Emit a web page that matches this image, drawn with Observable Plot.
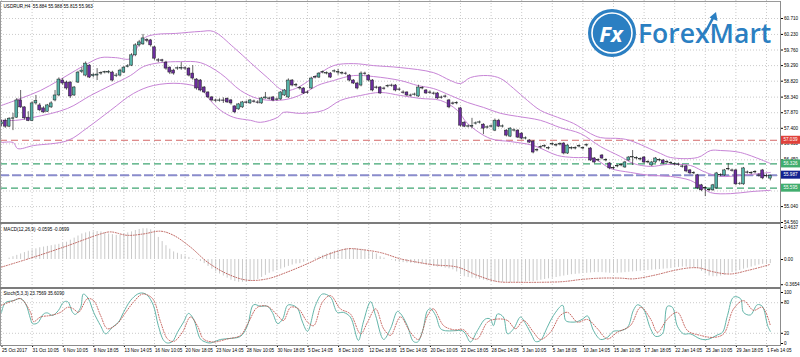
<!DOCTYPE html>
<html>
<head>
<meta charset="utf-8">
<script src="https://cdn.jsdelivr.net/npm/d3@7"></script>
<script src="https://cdn.jsdelivr.net/npm/@observablehq/plot@0.6"></script>
<style>
  html, body { margin: 0; padding: 0; background: #fff; }
  #wrap { position: relative; width: 800px; height: 357px; overflow: hidden; background: #fff; }
  .abs { position: absolute; }
  .ln { position: absolute; background: #8c8c8c; }
</style>
</head>
<body>
<div id="wrap">
  <div id="p1" class="abs" style="left:0;top:0"></div>
  <div id="p2" class="abs" style="left:0;top:224px"></div>
  <div id="p3" class="abs" style="left:0;top:289px"></div>
</div>
<script>
// ---------- DATA ----------
const symbolTitle = "USDRUR,H4  55.884 55.988 55.815 55.963";
const macdTitle = "MACD(12,26,9) -0.0595 -0.0699";
const stochTitle = "Stoch(5,3,3) 23.7569 35.6090";

const timeLabels = ["25 Oct 2017","31 Oct 10:05","6 Nov 10:05","8 Nov 18:05","13 Nov 14:05","16 Nov 10:05","20 Nov 18:05","23 Nov 14:05","28 Nov 10:05","30 Nov 18:05","5 Dec 14:05","8 Dec 10:05","12 Dec 18:05","15 Dec 14:05","20 Dec 10:05","22 Dec 18:05","28 Dec 14:05","3 Jan 10:05","5 Jan 18:05","10 Jan 14:05","15 Jan 10:05","17 Jan 18:05","22 Jan 14:05","25 Jan 10:05","29 Jan 18:05","1 Feb 14:05"];
const timeBars = [0,8,16,24,32,40,48,56,64,72,80,88,96,104,112,120,128,136,144,152,160,168,176,184,192,200];

const priceTicks = [60.710,60.230,59.760,59.290,58.820,58.340,57.870,57.400,56.930,56.450,55.980,55.510,55.040,54.560];
// labels that are not hidden behind the price tags
const priceLabelTicks = [60.710,60.230,59.760,59.290,58.820,58.340,57.870,57.400,56.930,56.450,55.040,54.560];
const macdTicks = [0.4637, 0, -0.3654];
const macdTickText = ["0.4637", "0.00", "-0.3654"];
const stochTicks = [100, 80, 20, 0];
const stochLevels = [80, 20];

const levelRed = 57.039, levelGreenHi = 56.326, levelBlue = 55.987, levelGreenLo = 55.595;

const open = [
57.52,57.63,57.45,57.69,57.72,58.24,58.03,57.72,57.62,58.15,
58.09,58.00,57.90,58.03,58.24,58.39,58.84,58.78,58.78,58.39,
58.78,59.10,58.99,59.29,58.97,58.99,59.05,59.08,59.08,59.08,
58.97,58.99,59.08,59.25,59.29,59.60,59.90,59.93,60.06,60.05,
59.84,59.45,59.45,59.38,59.23,59.14,59.20,59.20,59.21,59.20,
59.05,58.87,58.84,58.63,58.48,58.33,58.24,58.23,58.24,58.29,
58.24,58.06,57.97,58.03,58.18,58.15,58.21,58.18,58.15,58.30,
58.30,58.33,58.26,58.27,58.39,58.33,58.84,58.69,58.60,58.60,
58.48,58.60,58.93,58.93,59.08,59.05,59.05,59.11,59.08,59.05,
59.05,58.99,58.84,58.75,58.69,59.05,58.99,58.84,58.63,58.63,
58.60,58.66,58.69,58.69,58.57,58.48,58.48,58.39,58.41,58.36,
58.60,58.54,58.48,58.45,58.45,58.33,58.36,58.24,58.15,58.15,
58.00,57.57,57.45,57.45,57.54,57.57,57.51,57.42,57.45,57.33,
57.63,57.45,57.33,57.15,57.33,57.33,57.24,57.09,57.03,57.00,
56.73,56.82,56.85,56.79,56.91,56.88,56.91,56.94,56.64,56.79,
56.79,56.85,56.79,56.88,56.79,56.49,56.43,56.58,56.43,56.34,
56.19,56.25,56.28,56.22,56.43,56.52,56.49,56.46,56.52,56.37,
56.28,56.37,56.43,56.43,56.37,56.34,56.31,56.31,56.25,56.25,
56.13,56.04,55.98,55.68,55.59,55.53,55.53,55.59,55.98,55.98,
56.16,56.13,56.13,55.72,55.71,56.07,56.04,56.07,55.98,56.13,
55.95,55.884];
const close = [
57.58,57.45,57.69,57.70,58.24,58.03,57.70,57.62,58.15,58.22,
57.94,57.88,58.09,58.15,58.39,58.87,58.75,58.60,58.36,58.63,
59.08,59.14,59.35,58.93,59.00,59.02,59.06,59.09,59.10,58.84,
58.99,59.14,59.23,59.27,59.60,59.90,59.99,60.11,60.04,59.90,
59.50,59.44,59.43,59.20,59.08,59.05,59.21,59.22,59.20,58.99,
58.90,58.60,58.54,58.48,58.33,58.24,58.23,58.24,58.23,58.18,
58.15,57.88,58.12,58.18,58.17,58.24,58.20,58.17,58.30,58.33,
58.29,58.24,58.27,58.48,58.54,58.84,58.69,58.70,58.61,58.45,
58.47,58.90,58.94,59.05,59.09,59.06,58.93,59.12,59.09,59.06,
59.04,58.84,58.75,58.60,59.05,59.04,58.84,58.54,58.62,58.45,
58.59,58.67,58.68,58.54,58.56,58.47,58.39,58.38,58.42,58.63,
58.61,58.45,58.47,58.44,58.30,58.32,58.35,58.03,58.14,58.16,
57.48,57.45,57.46,57.47,57.55,57.58,57.39,57.43,57.46,57.63,
57.45,57.46,57.18,57.39,57.34,57.12,57.09,57.10,56.97,56.67,
56.74,56.83,56.86,56.80,56.92,56.89,56.92,56.64,56.88,56.80,
56.80,56.86,56.80,56.89,56.43,56.37,56.44,56.49,56.44,56.19,
56.20,56.26,56.29,56.37,56.52,56.53,56.50,56.47,56.37,56.38,
56.37,56.49,56.44,56.34,56.38,56.35,56.32,56.30,56.24,56.10,
56.04,56.05,55.59,55.53,55.60,55.54,55.68,56.04,55.99,56.13,
56.17,56.12,55.71,55.73,56.19,56.06,56.05,56.08,55.97,55.89,
55.96,55.963];
const high = [
57.65,57.68,57.72,57.85,58.30,58.54,58.05,57.90,58.20,58.39,
58.15,58.05,58.12,58.20,58.54,58.92,58.90,58.82,58.80,58.66,
59.12,59.23,59.40,59.32,59.05,59.20,59.10,59.12,59.14,59.12,
59.05,59.18,59.26,59.32,59.65,59.95,60.05,60.23,60.10,60.08,
59.87,59.50,59.48,59.42,59.25,59.18,59.25,59.38,59.25,59.23,
59.29,58.90,58.87,58.66,58.50,58.36,58.28,58.29,58.32,58.32,
58.27,58.08,58.15,58.21,58.22,58.27,58.25,58.23,58.33,58.48,
58.34,58.36,58.31,58.51,58.57,58.89,58.87,58.75,58.66,58.63,
58.52,58.94,58.98,59.08,59.13,59.10,59.08,59.16,59.18,59.10,
59.09,59.02,58.87,58.78,59.10,59.09,59.02,58.87,58.67,58.66,
58.64,58.71,58.73,58.72,58.61,58.53,58.50,58.43,58.46,58.70,
58.65,58.57,58.52,58.49,58.48,58.37,58.40,58.27,58.19,58.20,
58.03,57.60,57.50,57.70,57.59,57.62,57.54,57.47,57.50,57.68,
57.67,57.50,57.36,57.42,57.38,57.36,57.27,57.14,57.06,57.03,
56.78,56.87,56.90,56.84,56.96,56.93,56.96,56.97,56.91,56.84,
56.84,56.90,56.84,56.93,56.82,56.52,56.48,56.61,56.48,56.37,
56.24,56.30,56.33,56.40,56.55,56.73,56.54,56.51,56.55,56.42,
56.40,56.52,56.48,56.46,56.42,56.39,56.36,56.35,56.29,56.28,
56.16,56.09,56.01,55.71,55.64,55.58,55.71,56.07,56.03,56.16,
56.34,56.17,56.16,55.77,56.22,56.11,56.09,56.12,56.03,56.16,
56.02,55.988];
const low = [
57.45,57.40,57.42,57.33,57.70,58.00,57.65,57.60,57.60,58.10,
57.90,57.85,57.88,58.00,58.20,58.35,58.70,58.55,58.30,58.36,
58.75,59.05,58.95,58.90,58.92,58.84,59.00,59.04,59.04,58.80,
58.93,58.95,59.05,59.22,59.26,59.56,59.85,59.90,59.98,59.85,
59.45,59.38,59.38,59.15,59.02,59.00,59.15,59.15,59.15,58.95,
58.85,58.55,58.50,58.45,58.30,58.20,58.18,58.19,58.15,58.15,
58.10,57.84,57.94,58.00,58.13,58.12,58.16,58.13,58.12,58.28,
58.25,58.20,58.22,58.24,58.36,58.30,58.65,58.64,58.55,58.42,
58.43,58.57,58.89,58.90,59.04,59.01,58.90,59.07,59.00,59.01,
59.00,58.80,58.72,58.56,58.65,59.00,58.80,58.50,58.58,58.42,
58.55,58.62,58.64,58.50,58.52,58.43,58.36,58.34,58.37,58.33,
58.56,58.42,58.43,58.40,58.27,58.28,58.31,57.99,58.10,58.11,
57.44,57.42,57.41,57.39,57.50,57.53,57.21,57.38,57.41,57.30,
57.42,57.41,57.14,57.12,57.29,57.09,57.05,57.05,56.94,56.63,
56.69,56.78,56.81,56.75,56.87,56.84,56.87,56.60,56.61,56.75,
56.75,56.81,56.75,56.84,56.40,56.33,56.39,56.45,56.39,56.15,
56.15,56.21,56.24,56.19,56.40,56.28,56.45,56.42,56.33,56.33,
56.25,56.34,56.39,56.30,56.33,56.30,56.27,56.26,56.20,56.06,
56.00,56.00,55.55,55.49,55.34,55.49,55.50,55.56,55.94,55.95,
56.12,56.08,55.67,55.68,55.68,56.02,56.00,56.03,55.93,55.85,
55.91,55.815];

// Bollinger bands (read at sample bars)
const bbUpperBar = [0,5.0,10.2,14.9,19.3,22.5,25.9,29.8,33.7,35.8,37.6,40.3,45.5,52.0,55.4,60.7,65.1,69.5,73.7,76.9,81.6,86.8,92.0,97.3,104.3,112.9,117.4,120.0,122.6,127.1,130.5,133.9,137.5,140.9,145.4,149.5,154.0,156.6,161.8,164.4,172.3,174.9,182.0,185.4,188.0,193.2,201];
const bbUpper = [58.09,58.30,58.54,58.84,59.14,59.35,59.53,59.53,59.50,59.90,60.14,60.23,60.26,60.32,60.32,59.84,59.38,58.93,58.54,58.60,58.93,59.29,59.35,59.29,59.23,59.08,58.84,58.75,58.93,58.99,58.90,58.60,58.24,57.94,57.73,57.55,57.24,57.12,57.09,57.03,56.64,56.52,56.52,56.73,56.73,56.67,56.34];
const bbMidBar = [0,3.7,8.4,17.3,23.3,28.5,33.7,37.1,41.6,46.8,52.0,57.3,62.5,66.9,71.6,75.6,79.5,82.6,86.8,92.0,97.3,104.3,108.8,112.9,117.4,121.8,126.0,130.5,134.9,140.9,146.1,151.4,156.6,161.8,165.2,169.7,174.1,180.1,184.1,188.0,193.2,201];
const bbMid = [57.64,57.64,57.73,58.00,58.39,58.69,58.99,59.26,59.38,59.41,59.38,59.05,58.54,58.30,58.24,58.30,58.48,58.69,58.84,58.99,58.96,58.84,58.69,58.60,58.39,58.18,58.03,57.85,57.76,57.64,57.42,57.24,56.85,56.55,56.34,56.25,56.31,56.28,56.07,55.95,55.98,56.07];
const bbLowerBar = [0,3.1,4.2,8.4,17.3,22.5,28.5,34.5,39.7,46.8,52.0,54.6,57.3,60.7,65.1,67.7,72.2,73.7,78.2,84.2,88.6,93.9,99.1,104.3,109.5,114.8,119.2,121.8,127.8,133.1,139.1,145.4,149.5,154.8,159.2,164.4,169.7,174.9,180.1,182.7,185.4,190.6,195.8,201];
const bbLower = [56.97,56.97,56.79,56.88,57.03,57.42,57.94,58.45,58.69,58.75,58.60,58.24,57.94,57.73,57.64,57.58,57.73,57.88,57.85,57.94,58.24,58.39,58.48,58.39,58.30,58.24,57.94,57.55,57.09,57.00,56.88,56.58,56.52,56.49,56.19,56.07,55.98,55.95,55.83,55.65,55.46,55.43,55.49,55.53];

// MACD main (one per bar) and signal (sampled)
const macdMain = [
-0.01,0.00,0.02,0.04,0.06,0.08,
0.10,0.12,0.14,0.155,
0.17,0.18,0.19,0.20,0.21,0.22,0.235,0.25,
0.28,0.31,0.34,0.37,
0.385,0.40,0.40,0.405,0.40,
0.39,0.37,0.36,0.35,
0.355,0.37,0.385,0.40,
0.42,0.435,0.445,0.445,0.43,
0.40,0.32,0.26,0.20,0.15,
0.11,0.09,0.07,0.05,0.03,0.01,
-0.01,-0.03,-0.06,-0.10,-0.14,-0.18,
-0.21,-0.24,-0.27,-0.30,-0.32,-0.33,-0.33,
-0.33,-0.32,-0.31,-0.29,-0.26,-0.23,-0.20,
-0.18,-0.16,-0.14,-0.12,-0.10,-0.08,-0.065,
-0.06,-0.04,-0.02,0.00,0.02,0.04,0.06,
0.08,0.10,0.12,0.135,0.145,0.155,0.16,
0.155,0.155,0.15,0.14,0.12,0.10,0.08,0.04,
0.02,0.00,-0.01,-0.03,-0.04,
-0.045,-0.05,-0.055,-0.06,-0.065,-0.07,-0.08,-0.09,
-0.10,-0.11,-0.115,-0.125,-0.135,-0.15,-0.18,-0.22,-0.25,
-0.26,-0.27,-0.28,-0.29,-0.30,-0.31,-0.32,-0.325,-0.33,
-0.33,-0.33,-0.335,-0.33,-0.33,-0.33,-0.325,-0.32,-0.32,
-0.31,-0.30,-0.29,-0.28,-0.27,-0.26,-0.25,-0.24,-0.23,
-0.22,-0.215,-0.21,-0.20,-0.20,-0.195,-0.19,-0.19,-0.19,
-0.195,-0.20,-0.20,-0.20,-0.195,-0.19,-0.185,-0.18,-0.175,
-0.17,-0.165,-0.16,-0.155,-0.15,-0.145,-0.14,-0.135,-0.13,
-0.12,-0.115,-0.11,-0.11,-0.115,-0.12,-0.13,
-0.17,-0.21,-0.24,-0.25,-0.25,-0.24,-0.23,
-0.21,-0.19,-0.18,-0.16,-0.14,-0.125,-0.11,
-0.095,-0.08,-0.07,-0.065,-0.0595];
const macdSignalBar = [0,8.4,17.3,25.9,28.5,32.9,37.1,41.6,45.0,49.4,53.9,59.1,64.3,69.5,74.8,80.0,85.2,90.5,93.9,99.1,104.3,108.8,112.9,119.2,124.4,129.7,134.9,140.9,146.9,151.4,156.6,161.8,165.2,170.5,175.7,180.1,182.7,186.2,190.6,195.0,199.2,201];
const macdSignal = [-0.11,0.034,0.2,0.37,0.40,0.35,0.37,0.41,0.35,0.18,-0.04,-0.21,-0.30,-0.28,-0.18,-0.06,0.07,0.155,0.145,0.10,0.01,-0.04,-0.077,-0.11,-0.23,-0.32,-0.33,-0.33,-0.32,-0.29,-0.27,-0.27,-0.28,-0.23,-0.16,-0.12,-0.125,-0.18,-0.21,-0.16,-0.10,-0.0699];

// Stochastic %K and %D (sampled)
const stochKBar = [0,1.0,3.1,5.0,6.3,7.6,8.1,9.4,11.0,12.0,13.3,14.9,16.2,17.3,18.6,19.3,20.7,21.4,22.7,24.1,25.9,27.2,29.0,30.6,31.9,33.7,35.6,36.9,38.2,39.7,41.0,42.4,43.4,44.7,46.0,47.6,48.9,50.2,52.0,53.3,54.6,57.3,59.9,62.5,64.3,65.9,67.7,69.5,70.8,72.2,73.5,74.8,76.1,77.4,78.7,80.0,82.1,83.9,86.0,87.8,89.4,91.2,93.3,94.6,96.5,97.8,99.9,101.7,103.5,104.3,106.1,107.7,108.8,110.1,111.4,112.2,113.5,114.8,116.1,118.2,120.5,121.3,122.6,124.4,126.5,127.8,128.6,129.7,131.2,132.3,133.9,135.7,137.0,138.8,139.6,140.9,142.7,144.3,146.7,147.5,148.8,150.6,151.9,153.2,154.8,156.6,158.4,160.0,161.8,163.7,165.2,166.3,167.8,169.7,171.0,172.8,174.1,175.4,176.7,178.3,180.1,182.7,184.6,187.2,188.5,189.8,191.4,193.2,194.0,195.8,197.6,198.9,200.3,201];
const stochK = [61,80,84,88,78,48,39,40,58,60,55,65,81,82,61,57,71,97,88,61,35,19,32,42,61,84,97,99,94,75,35,6,1,4,22,42,59,48,9,3,1,8,10,14,35,76,73,73,61,39,48,75,75,69,42,24,75,97,91,61,61,52,6,42,82,55,8,29,63,59,35,4,3,25,65,68,55,29,25,25,25,19,3,25,48,48,35,58,52,19,29,52,39,14,4,6,32,55,75,45,42,43,48,54,25,8,12,24,25,32,65,76,68,29,14,19,73,71,34,19,19,9,8,17,22,55,91,88,61,56,76,73,35,23.76];
const stochDBar = [0,3.1,5.0,7.6,8.4,10.2,12.8,15.4,17.3,18.8,20.1,22.5,24.1,25.9,27.7,30.3,31.9,34.5,36.9,39.5,41.6,43.4,45.0,47.3,49.4,51.2,52.8,55.4,59.1,62.5,64.6,66.9,69.5,72.2,73.7,75.6,77.6,80.0,81.6,83.9,86.0,88.6,91.2,93.9,95.7,97.8,99.9,101.7,104.3,106.9,109.0,111.4,112.9,115.6,118.2,120.8,122.6,124.4,127.1,129.7,132.3,134.4,136.5,139.1,140.9,143.5,146.1,148.0,150.6,153.2,155.8,158.4,161.0,164.4,167.1,169.7,171.5,174.1,176.7,179.4,182.7,186.2,188.8,191.4,194.0,196.6,198.9,201];
const stochD = [75,84,88,61,43,52,55,61,71,68,61,88,84,55,29,39,55,81,97,88,42,9,4,22,52,35,9,3,9,16,42,71,73,55,45,71,68,42,35,81,94,68,58,19,42,68,29,16,52,22,8,55,68,35,27,27,12,9,42,48,45,29,45,22,8,22,55,61,42,47,29,9,22,35,71,48,22,48,61,25,16,12,19,68,84,65,71,35.61];

// ---------- TABLES ----------
const candles = open.map((o, i) => ({i, o, h: high[i], l: low[i], c: close[i]}));
const pairs = (bars, vals) => bars.map((b, k) => ({i: b, v: vals[k]}));
const upperRows = pairs(bbUpperBar, bbUpper);
const midRows = pairs(bbMidBar, bbMid);
const lowerRows = pairs(bbLowerBar, bbLower);
const macdRows = macdMain.map((v, i) => ({i, v}));
const sigRows = pairs(macdSignalBar, macdSignal);
const kRows = pairs(stochKBar, stochK);
const dRows = pairs(stochDBar, stochD);

// ---------- STYLE ----------
const FONT = "Liberation Sans, Arial, sans-serif";
const FS = 4.6;
const baseStyle = {fontFamily: FONT, fontSize: FS + "px", background: "transparent", color: "#000", overflow: "visible"};
const grid = {stroke: "#bdbdbd", strokeOpacity: 1, strokeDasharray: "1,2", strokeWidth: 0.8};
const xScale = {domain: [-0.26, 203.66], range: [0, 780], axis: null};
const bandColor = "#c784d6";
const bull = "#55b3a8", bear = "#6b2d9e";

// ---------- MAIN PANEL ----------
const main = Plot.plot({
  width: 800, height: 223,
  marginTop: 0, marginRight: 20, marginBottom: 0, marginLeft: 0,
  x: xScale,
  y: {domain: [54.53, 61.253], range: [223, 0]},
  style: baseStyle,
  marks: [
    Plot.gridY(priceTicks, grid),
    Plot.gridX(timeBars, grid),
    Plot.ruleY([levelRed], {stroke: "#d46a6a", strokeWidth: 1, strokeDasharray: "7,4"}),
    Plot.ruleY([levelGreenHi], {stroke: "#3fa572", strokeWidth: 1.2, strokeDasharray: "7,4"}),
    Plot.ruleY([levelGreenLo], {stroke: "#3fa572", strokeWidth: 1.2, strokeDasharray: "7,4"}),
    Plot.ruleY([levelBlue], {stroke: "#8a8ccc", strokeWidth: 2, strokeDasharray: "9,3"}),
    Plot.line(upperRows, {x: "i", y: "v", stroke: bandColor, strokeWidth: 1, curve: "catmull-rom"}),
    Plot.line(midRows, {x: "i", y: "v", stroke: bandColor, strokeWidth: 1, curve: "catmull-rom"}),
    Plot.line(lowerRows, {x: "i", y: "v", stroke: bandColor, strokeWidth: 1, curve: "catmull-rom"}),
    Plot.ruleX(candles, {x: "i", y1: "l", y2: "h", stroke: "#222", strokeWidth: 0.7}),
    Plot.rect(candles, {filter: d => d.c >= d.o, x1: d => d.i - 0.37, x2: d => d.i + 0.37,
      y1: d => d.o, y2: d => d.c, fill: bull, stroke: "#1d1d1d", strokeWidth: 0.5}),
    Plot.rect(candles, {filter: d => d.c < d.o, x1: d => d.i - 0.37, x2: d => d.i + 0.37,
      y1: d => d.c, y2: d => d.o, fill: bear, stroke: "#1d1d1d", strokeWidth: 0.5}),
    Plot.text([symbolTitle], {text: d => d, frameAnchor: "top-left", dx: 3, dy: 4, lineAnchor: "top", fontSize: FS, fill: "#000"}),
    Plot.axisY(priceLabelTicks, {anchor: "right", tickSize: 2, tickPadding: 1.5, tickFormat: d => d.toFixed(3), label: null, fontSize: FS})
  ]
});
document.getElementById("p1").appendChild(main);

// ---------- MACD PANEL ----------
const macdPlot = Plot.plot({
  width: 800, height: 64,
  marginTop: 0, marginRight: 20, marginBottom: 0, marginLeft: 0,
  x: xScale,
  y: {domain: [-0.42, 0.507], range: [64, 0]},
  style: baseStyle,
  marks: [
    Plot.gridX(timeBars, grid),
    Plot.ruleX(macdRows, {x: "i", y1: 0, y2: "v", stroke: "#c9c9c9", strokeWidth: 1}),
    Plot.line(sigRows, {x: "i", y: "v", stroke: "#b8554f", strokeWidth: 0.9, strokeDasharray: "1,1.6", curve: "catmull-rom"}),
    Plot.text([macdTitle], {text: d => d, frameAnchor: "top-left", dx: 3, dy: 3, lineAnchor: "top", fontSize: FS, fill: "#000"}),
    Plot.axisY(macdTicks, {anchor: "right", tickSize: 2, tickPadding: 1.5, tickFormat: d => macdTickText[macdTicks.indexOf(d)], label: null, fontSize: FS})
  ]
});
document.getElementById("p2").appendChild(macdPlot);

// ---------- STOCH PANEL ----------
const stochPlot = Plot.plot({
  width: 800, height: 68,
  marginTop: 0, marginRight: 20, marginBottom: 12, marginLeft: 0,
  x: xScale,
  y: {domain: [-3.9, 105.9]},
  style: baseStyle,
  marks: [
    Plot.gridX(timeBars, grid),
    Plot.ruleY(stochLevels, {stroke: "#bdbdbd", strokeDasharray: "1,2", strokeWidth: 0.8}),
    Plot.line(kRows, {x: "i", y: "v", stroke: "#63b5a9", strokeWidth: 1, curve: "catmull-rom"}),
    Plot.line(dRows, {x: "i", y: "v", stroke: "#c0524c", strokeWidth: 0.9, strokeDasharray: "1,1.6", curve: "catmull-rom"}),
    Plot.text([stochTitle], {text: d => d, frameAnchor: "top-left", dx: 3, dy: 2, lineAnchor: "top", fontSize: FS, fill: "#000"}),
    Plot.axisY(stochTicks, {anchor: "right", tickSize: 2, tickPadding: 1.5, tickFormat: d => String(d), label: null, fontSize: FS}),
    Plot.axisX(timeBars, {anchor: "bottom", tickSize: 2, tickPadding: 1.5, textAnchor: "start", dx: 0.5,
      tickFormat: d => timeLabels[timeBars.indexOf(d)], label: null, fontSize: FS})
  ]
});
document.getElementById("p3").appendChild(stochPlot);

// ---------- FRAME ----------
const wrap = document.getElementById("wrap");
function line(l, t, w, h, c) {
  const d = document.createElement("div");
  d.className = "ln";
  d.style.left = l + "px"; d.style.top = t + "px"; d.style.width = w + "px"; d.style.height = h + "px";
  if (c) d.style.background = c;
  wrap.appendChild(d);
}
line(0, 1, 781, 1, "#9a9a9a");
line(0, 1, 1, 345, "#9a9a9a");
line(780, 1, 1, 345, "#8c8c8c");
line(0, 222, 781, 2, "#7c7c7c");
line(0, 287, 781, 2, "#7c7c7c");
line(0, 345, 781, 1, "#8c8c8c");

// ---------- PRICE TAGS (positioned with the main y scale) ----------
const ys = main.scale("y");
const NS = "http://www.w3.org/2000/svg";
const over = document.createElementNS(NS, "svg");
over.setAttribute("width", 800); over.setAttribute("height", 357);
over.style.position = "absolute"; over.style.left = "0"; over.style.top = "0";
wrap.appendChild(over);
const tags = [
  {v: levelRed, t: "57.039", fill: "#e0403a"},
  {v: levelGreenHi, t: "56.326", fill: "#41ad6e"},
  {v: levelBlue, t: "55.987", fill: "#13228f"},
  {v: levelGreenLo, t: "55.595", fill: "#41ad6e"}
];
for (const tg of tags) {
  const y = ys.apply(tg.v);
  const r = document.createElementNS(NS, "rect");
  r.setAttribute("x", 781); r.setAttribute("y", y - 4); r.setAttribute("width", 19); r.setAttribute("height", 8);
  r.setAttribute("fill", tg.fill);
  over.appendChild(r);
  const tx = document.createElementNS(NS, "text");
  tx.setAttribute("x", 790.5); tx.setAttribute("y", y + 1.6);
  tx.setAttribute("text-anchor", "middle"); tx.setAttribute("fill", "#fff");
  tx.setAttribute("font-family", FONT); tx.setAttribute("font-size", FS);
  tx.textContent = tg.t;
  over.appendChild(tx);
}

// ---------- LOGO ----------
const logo = document.createElementNS(NS, "g");
logo.innerHTML = `
  <circle cx="612" cy="33" r="24" fill="#2b7fc2"/>
  <circle cx="612" cy="33" r="20" fill="none" stroke="#fff" stroke-width="1.6"/>
  <text x="611" y="41.5" text-anchor="middle" font-family="Open Sans, sans-serif" font-weight="700" font-style="italic" font-size="22" fill="#fff">Fx</text>
  <text x="638" y="43" font-family="Open Sans, sans-serif" font-weight="600" font-size="26.5" fill="#2b7fc2">ForexMart</text>
  <line x1="705" y1="33" x2="713" y2="18" stroke="#2b7fc2" stroke-width="2.6"/>
  <polygon points="716,12 717.5,21 709.5,17.5" fill="#2b7fc2"/>`;
over.appendChild(logo);
</script>
</body>
</html>
